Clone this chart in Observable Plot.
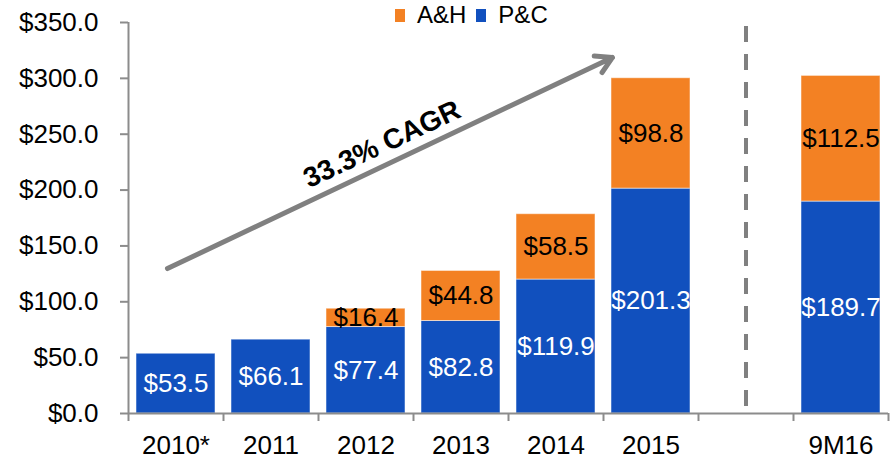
<!DOCTYPE html>
<html>
<head>
<meta charset="utf-8">
<script src="https://cdn.jsdelivr.net/npm/d3@7"></script>
<script src="https://cdn.jsdelivr.net/npm/@observablehq/plot@0.6"></script>
<style>
  html, body { margin: 0; padding: 0; background: #fff; }
  #wrap { position: relative; width: 890px; height: 458px; font-family: "Liberation Sans", Arial, sans-serif; }
  #legend { position: absolute; top: 1px; left: 395px; display: flex; align-items: center; height: 28px; font-size: 24px; color: #000; }
  #legend .sw { display: inline-block; width: 10px; height: 13px; margin-right: 12px; }
  #legend .lab { margin-right: 10px; }
</style>
</head>
<body>
<div id="wrap"><div id="legend"></div></div>
<script>
// ---- data ----
const categories = ["2010*", "2011", "2012", "2013", "2014", "2015", "", "9M16"];
const periods    = ["2010*", "2011", "2012", "2013", "2014", "2015", "9M16"];
const pcValues   = [53.5, 66.1, 77.4, 82.8, 119.9, 201.3, 189.7];
const ahValues   = [null, null, 16.4, 44.8, 58.5, 98.8, 112.5];
const series     = ["A&H", "P&C"];
const seriesColors = ["#F38123", "#1150BE"];
const yTicks     = [0, 50, 100, 150, 200, 250, 300, 350];
const dividerAt  = "";
const cagrLabel  = "33.3% CAGR";
const cagrAt     = ["2012", 241];
const arrowFrom  = ["2010*", 125.3];
const arrowTo    = ["2015", 327];

// ---- build table ----
const rows = [];
periods.forEach((p, i) => {
  rows.push({cat: p, series: "P&C", base: 0, value: pcValues[i]});
  if (ahValues[i] != null) rows.push({cat: p, series: "A&H", base: pcValues[i], value: ahValues[i]});
});
const pcRows = rows.filter(d => d.series === "P&C");
const ahRows = rows.filter(d => d.series === "A&H");
const fmt = v => "$" + v.toFixed(1);

const width = 890, height = 458;
const mL = 128, mR = 2, mT = 22, mB = 45;
const step = (width - mL - mR) / categories.length;
const axisGrey = "#8c8c8c";
const FS = 26;

const chart = Plot.plot({
  width, height,
  marginLeft: mL, marginRight: mR, marginTop: mT, marginBottom: mB,
  style: {fontFamily: "'Liberation Sans', Arial, sans-serif", fontSize: FS + "px", color: "#000", background: "#fff", overflow: "visible"},
  x: {type: "band", domain: categories, padding: 0, axis: null},
  y: {domain: [0, 350], axis: null},
  color: {domain: series, range: seriesColors},
  marks: [
    Plot.barY(rows, {x: "cat", y1: "base", y2: d => d.base + d.value, fill: "series",
      insetLeft: 8, insetRight: 8, stroke: "#ffffff", strokeOpacity: 0.5, strokeWidth: 1}),
    Plot.text(pcRows, {x: "cat", y: d => d.base + d.value / 2, text: d => fmt(d.value), fill: "#ffffff", fontSize: FS}),
    Plot.text(ahRows, {x: "cat", y: d => d.base + d.value / 2, text: d => fmt(d.value), fill: "#000000", fontSize: FS}),
    Plot.ruleX([dividerAt], {x: d => d, stroke: "#808080", strokeWidth: 4, strokeDasharray: "16,12", insetTop: 4, insetBottom: 7}),
    Plot.ruleY([0], {stroke: axisGrey, strokeWidth: 2}),
    Plot.ruleX([categories[0]], {x: d => d, dx: -step / 2, stroke: axisGrey, strokeWidth: 2}),
    Plot.axisY({ticks: yTicks, tickFormat: fmt, tickSize: 8, tickPadding: 22, stroke: axisGrey, strokeWidth: 2, fill: "#000", fontSize: FS}),
    Plot.axisX({tickSize: 0, tickPadding: 22, fill: "#000", fontSize: FS, tickFormat: d => d}),
    Plot.axisX({ticks: categories, tickSize: 8, tickFormat: () => "", dx: -step / 2, stroke: axisGrey, strokeWidth: 2}),
    Plot.axisX({ticks: [categories[categories.length - 1]], tickSize: 8, tickFormat: () => "", dx: step / 2, stroke: axisGrey, strokeWidth: 2}),
    Plot.arrow([{x1: arrowFrom[0], y1: arrowFrom[1], x2: arrowTo[0], y2: arrowTo[1]}], {
      x1: "x1", y1: "y1", x2: "x2", y2: "y2", dx: -19, insetStart: 11.6, insetEnd: 21.6,
      stroke: "#808080", strokeWidth: 5, headLength: 5.5}),
    Plot.text([cagrLabel], {x: () => cagrAt[0], y: () => cagrAt[1], text: d => d, dx: 16, rotate: -25,
      fontWeight: "bold", fontSize: 28, fill: "#000"})
  ]
});

const wrap = document.getElementById("wrap");
wrap.insertBefore(chart, wrap.firstChild);

// legend
const legend = document.getElementById("legend");
series.forEach((s, i) => {
  const sw = document.createElement("span");
  sw.className = "sw";
  sw.style.background = seriesColors[i];
  const lab = document.createElement("span");
  lab.className = "lab";
  lab.textContent = s;
  legend.appendChild(sw);
  legend.appendChild(lab);
});
</script>
</body>
</html>
